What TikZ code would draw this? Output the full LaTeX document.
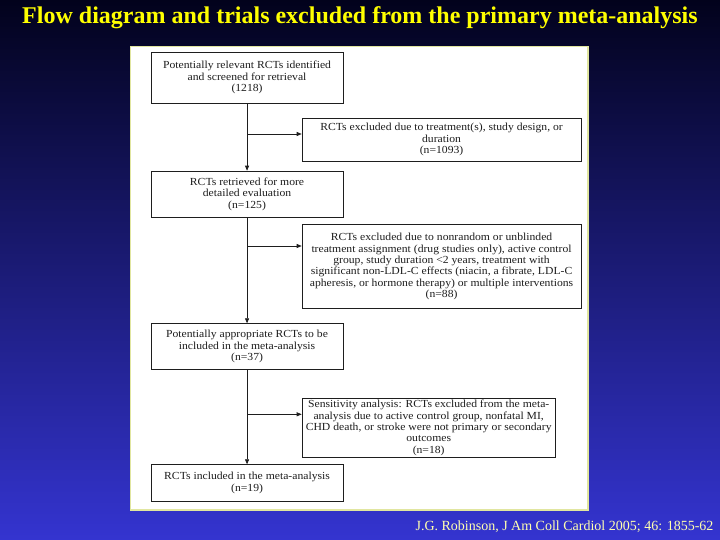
\documentclass[tikz,border=0pt]{standalone}
\usepackage{fontspec}
\setmainfont{Liberation Serif}
\newfontfamily\boxfont[FakeStretch=1.08]{Liberation Serif}
\usetikzlibrary{arrows.meta,calc}
\definecolor{bgtop}{RGB}{2,2,28}
\definecolor{bgbot}{RGB}{52,52,208}
\definecolor{ttl}{RGB}{255,255,0}
\definecolor{cite}{RGB}{255,255,175}
\definecolor{panelrim}{RGB}{225,230,160}
\definecolor{ink}{RGB}{30,30,30}

\begin{document}
\begin{tikzpicture}[x=1pt, y=1pt,
  stage/.style={draw=ink, fill=white, line width=0.7pt, align=center, anchor=north west,
    text=ink, font=\boxfont\fontsize{10.8}{11.4}\selectfont, inner sep=2pt},
  arr/.style={-{Triangle[length=5pt, width=4pt]}, draw=ink, line width=0.7pt}]

% slide background
\shade[top color=bgtop, bottom color=bgbot] (0,0) rectangle (720,-540);
\useasboundingbox (0,0) rectangle (720,-540);
\node[font=\fontsize{24}{26}\selectfont\bfseries, text=ttl] (title) at (360,-18)
  {Flow diagram and trials excluded from the primary meta-analysis};
\node[font=\fontsize{14}{16}\selectfont, text=cite, anchor=east] (cite) at (717,-527)
  {J.G. Robinson, J Am Coll Cardiol 2005; 46: 1855-62};

% white panel
\filldraw[fill=white, draw=panelrim, line width=1.2pt] (130.5,-46.5) rectangle (588,-510);

% main column
\node[stage, minimum width=192pt, minimum height=51pt] (screened) at (150.7,-51.7)
  {Potentially relevant RCTs identified\\and screened for retrieval\\(1218)};
\node[stage, minimum width=192pt, minimum height=46pt] (retrieved) at (150.7,-170.7)
  {RCTs retrieved for more\\detailed evaluation\\(n=125)};
\node[stage, minimum width=192pt, minimum height=46pt] (appropriate) at (150.7,-323.3)
  {Potentially appropriate RCTs to be\\included in the meta-analysis\\(n=37)};
\node[stage, minimum width=192pt, minimum height=36.5pt] (included) at (150.7,-464.3)
  {RCTs included in the meta-analysis\\(n=19)};

% exclusions
\node[stage, minimum width=279pt, minimum height=43.3pt] (excl1) at (301.7,-117.7)
  {RCTs excluded due to treatment(s), study design, or\\duration\\(n=1093)};
\node[stage, minimum width=279pt, minimum height=84pt] (excl2) at (301.7,-224.3)
  {RCTs excluded due to nonrandom or unblinded\\treatment assignment (drug studies only), active control\\
   group, study duration <2 years, treatment with\\significant non-LDL-C effects (niacin, a fibrate, LDL-C\\
   apheresis, or hormone therapy) or multiple interventions\\(n=88)};
\node[stage, minimum width=253.3pt, minimum height=55.6pt] (excl3) at (301.7,-397.7)
  {Sensitivity analysis: RCTs excluded from the meta-\\analysis due to active control group, nonfatal MI,\\
   CHD death, or stroke were not primary or secondary\\outcomes\\(n=18)};

\coordinate (j1) at ($(excl1.north west)+(0,-16.3)$);
\coordinate (j2) at ($(excl2.north west)+(0,-21.7)$);
\coordinate (j3) at ($(excl3.north west)+(0,-16.6)$);

\draw[arr] (screened.south) -- (retrieved.north);
\draw[arr] (retrieved.south) -- (appropriate.north);
\draw[arr] (appropriate.south) -- (included.north);
\draw[arr] (screened.south |- j1) -- (j1);
\draw[arr] (retrieved.south |- j2) -- (j2);
\draw[arr] (appropriate.south |- j3) -- (j3);
\end{tikzpicture}
\end{document}
